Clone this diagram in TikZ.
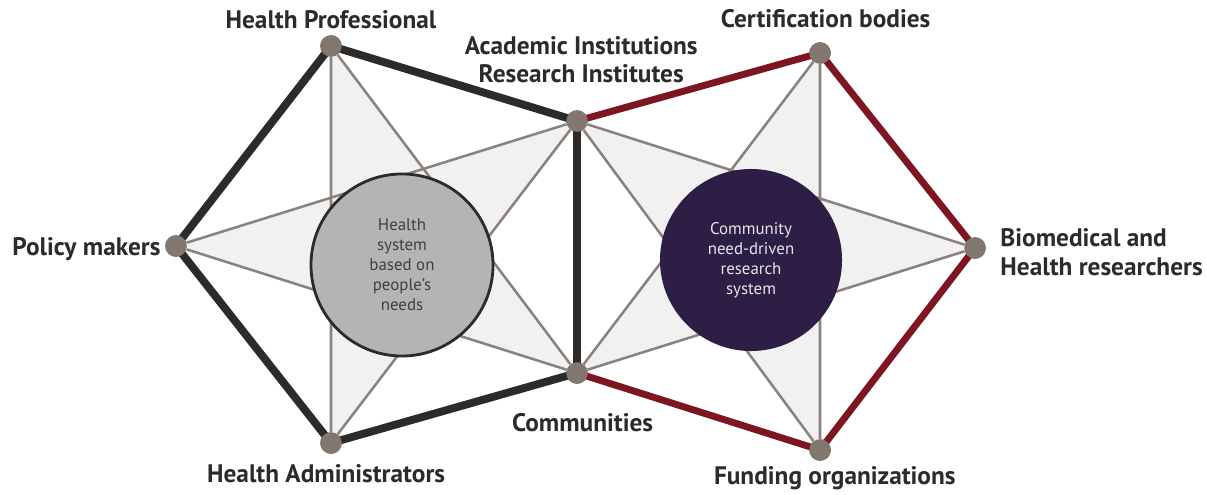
\documentclass[tikz,border=0pt]{standalone}
\usepackage{fontspec}
\setmainfont{PT Sans}
\usetikzlibrary{positioning}

\definecolor{edgedark}{HTML}{2B2B2B}
\definecolor{edgered}{HTML}{7E1621}
\definecolor{dotgray}{HTML}{81776F}
\definecolor{starline}{HTML}{8C827B}
\definecolor{starfill}{HTML}{F1F1F1}
\definecolor{hubgray}{HTML}{B4B4B4}
\definecolor{hubpurple}{HTML}{2D1E45}

\begin{document}
\begin{tikzpicture}[
  x=0.025cm, y=-0.025cm,
  node distance=3pt,
  dot/.style={circle, fill=dotgray, inner sep=0pt, minimum size=0.54cm},
  actor/.style={font=\fontsize{18}{20}\selectfont\bfseries, text=edgedark, align=center, inner sep=1pt},
  ray/.style={draw=starline, line width=1.8pt},
  darkside/.style={draw=edgedark, line width=5.6pt},
  redside/.style={draw=edgered, line width=4.9pt},
  hub/.style={circle, minimum size=4.55cm, inner sep=0pt, align=center,
    font=\fontsize{12}{14.2}\selectfont}
]
\useasboundingbox (0,0) rectangle (1207,494);

% stakeholders
\node[dot] (hp)   at (331,46)  {};
\node[dot] (acad) at (577,121) {};
\node[dot] (comm) at (577,373) {};
\node[dot] (ha)   at (331,443) {};
\node[dot] (pm)   at (176,246) {};
\node[dot] (cert) at (820,53)  {};
\node[dot] (bio)  at (975,248) {};
\node[dot] (fund) at (820,450) {};

% stars
\fill[starfill] (hp.center) -- (comm.center) -- (pm.center) -- (acad.center) -- (ha.center) -- cycle;
\fill[starfill] (acad.center) -- (bio.center) -- (comm.center) -- (cert.center) -- (fund.center) -- cycle;
\draw[ray] (hp) -- (comm) -- (pm) -- (acad) -- (ha) -- (hp);
\draw[ray] (acad) -- (bio) -- (comm) -- (cert) -- (fund) -- (acad);

% outer pentagons
\draw[darkside, line join=round] (acad.center) -- (hp.center) -- (pm.center) -- (ha.center) -- (comm.center) -- (acad.center);
\draw[redside, line join=round] (acad.center) -- (cert.center) -- (bio.center) -- (fund.center) -- (comm.center);
\draw[darkside] (acad.center) -- (comm.center);

% dots on top
\foreach \n in {hp,acad,comm,ha,pm,cert,bio,fund}
  \fill[dotgray] (\n.center) circle (0.27cm);

% the two systems
\node[hub, fill=hubgray, draw=edgedark, line width=2pt, text=edgedark!90] (health) at (402,265)
  {Health\\system\\based on\\people's\\needs};
\node[hub, fill=hubpurple, text=white!88!hubpurple] (research) at (751,260)
  {Community\\need-driven\\research\\system};

% labels
\node[actor, above=3pt of hp] (hplab) {Health Professional};
\node[actor, above=18pt of acad, xshift=3pt] (acadlab) {Academic Institutions\\Research Institutes};
\node[actor, above=9pt of cert, xshift=4pt] (certlab) {Certification bodies};
\node[actor, left=2pt of pm, yshift=-2pt] (pmlab) {Policy makers};
\node[actor, right=9pt of bio, yshift=-3pt, align=left] (biolab) {Biomedical and\\Health researchers};
\node[actor, below=20pt of comm, xshift=4pt] (commlab) {Communities};
\node[actor, below=6pt of ha, xshift=-3.5pt] (halab) {Health Administrators};
\node[actor, below=3pt of fund, xshift=10.5pt] (fundlab) {Funding organizations};
\end{tikzpicture}
\end{document}
